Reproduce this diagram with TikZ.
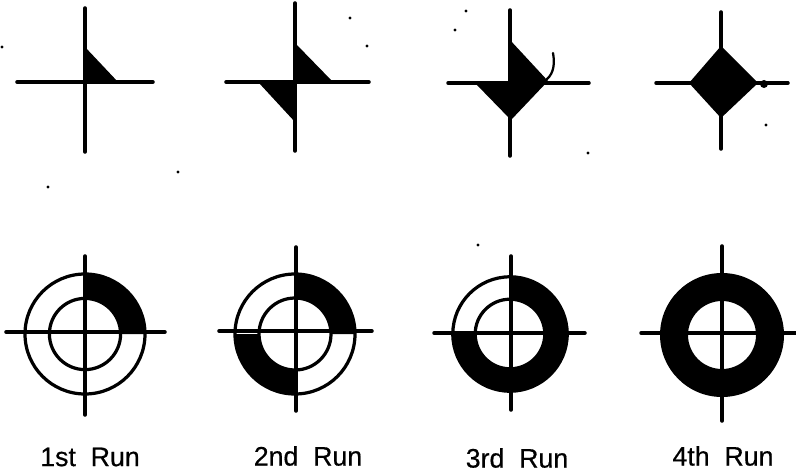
\documentclass[tikz,border=0pt]{standalone}
\usepackage{fontspec}
\setmainfont{Liberation Sans}[FakeBold=0.5]
\begin{document}
\begin{tikzpicture}[line cap=round,
  axis/.style={line width=2.5pt},
  rim/.style={line width=2.3pt},
  runlabel/.style={font=\fontsize{19}{21}\selectfont,inner sep=0pt}]
\useasboundingbox (0,0) rectangle (19.9,11.825);
% top row
\fill (2.125,10.65) -- (2.95,9.775) -- (2.125,9.775) -- cycle;
\draw[axis] (0.425,9.775) -- (3.825,9.775);
\draw[axis] (2.125,11.625) -- (2.125,8.025);

\fill (7.375,10.75) -- (8.325,9.775) -- (7.375,9.775) -- cycle;
\fill (6.475,9.75) -- (7.375,9.75) -- (7.375,8.775) -- cycle;
\draw[axis] (5.65,9.775) -- (9.225,9.775);
\draw[axis] (7.375,11.75) -- (7.375,8.05);

\fill (12.75,10.825) -- (13.7,9.8) -- (12.775,8.825) -- (11.875,9.75) -- (12.75,9.75) -- cycle;
\draw[axis] (11.2,9.75) -- (14.725,9.75);
\draw[axis] (12.75,11.575) -- (12.75,7.925);
\draw[line width=1.6pt] (13.675,9.85) .. controls (13.85,10) and (13.87,10.25) .. (13.825,10.5);

\fill (18.025,10.675) -- (18.95,9.75) -- (18.025,8.875) -- (17.225,9.75) -- cycle;
\draw[axis] (16.4,9.75) -- (19.7,9.75);
\draw[axis] (18.025,11.525) -- (18.025,8.1);
\fill (19.1,9.725) circle (0.1);

% bottom row
\fill (2.125,4.975) arc (90:0:1.5) -- (3.015,3.475) arc (0:90:0.89) -- cycle;
\draw[rim] (2.125,3.475) circle (1.5);
\draw[rim] (2.125,3.475) circle (0.89);
\draw[axis] (0.15,3.525) -- (4.125,3.525);
\draw[axis] (2.125,5.425) -- (2.125,1.45);

\fill (7.375,4.975) arc (90:0:1.5) -- (8.275,3.475) arc (0:90:0.9) -- cycle;
\fill (5.875,3.475) arc (180:270:1.5) -- (7.375,2.575) arc (270:180:0.9) -- cycle;
\draw[rim] (7.375,3.475) circle (1.5);
\draw[rim] (7.375,3.475) circle (0.9);
\draw[axis] (5.475,3.55) -- (9.3,3.55);
\draw[axis] (7.4,5.65) -- (7.4,1.55);

\fill (12.75,4.925) arc (90:-180:1.45) -- (11.88,3.475) arc (180:450:0.87) -- cycle;
\draw[rim] (12.75,3.475) circle (1.43);
\draw[rim] (12.75,3.475) circle (0.87);
\draw[axis] (10.85,3.5) -- (14.625,3.5);
\draw[axis] (12.775,5.425) -- (12.775,1.575);

\fill[even odd rule] (18.05,3.45) circle (1.55) (18.05,3.45) circle (0.85);
\draw[axis] (16.025,3.5) -- (19.9,3.5);
\draw[axis] (18.05,5.675) -- (18.05,1.3);

\node[runlabel] (run1) at (2.25,0.4) {1st\ \ Run};
\node[runlabel] (run2) at (7.7,0.425) {2nd\ \ Run};
\node[runlabel] (run3) at (12.925,0.375) {3rd\ \ Run};
\node[runlabel] (run4) at (18.075,0.425) {4th\ \ Run};

% specks
\foreach \x/\y in {8.75/11.375,9.175/10.675,11.65/11.55,11.375/11.075,14.7/8,19.15/8.7,11.95/5.7,1.2/7.15,4.45/7.525,0.05/10.65}
  \fill (\x,\y) circle (0.04);
\end{tikzpicture}
\end{document}
